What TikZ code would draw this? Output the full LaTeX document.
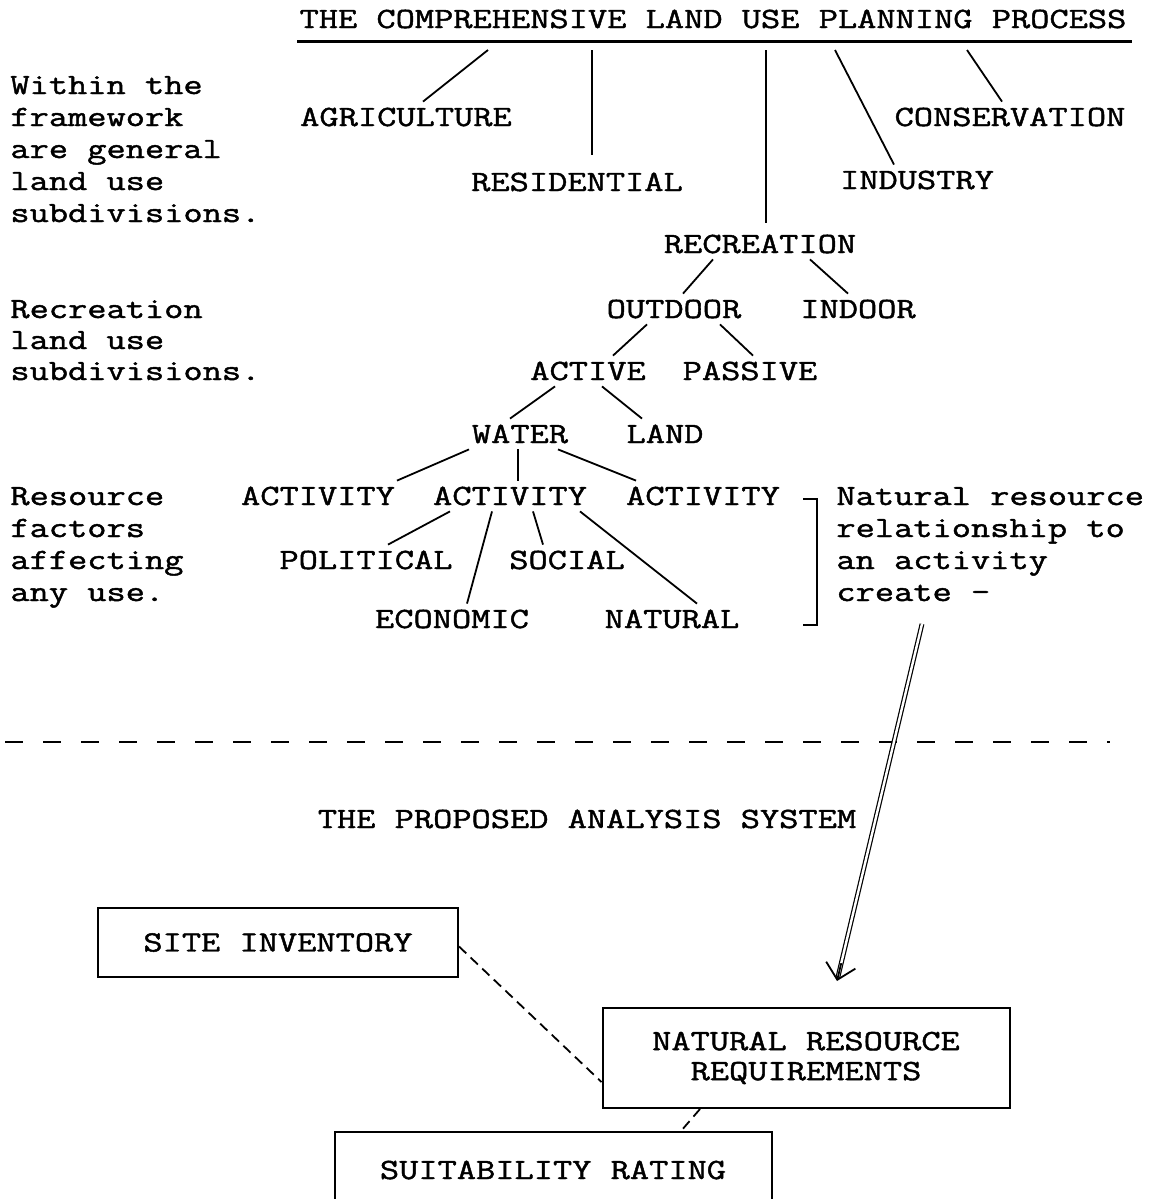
\documentclass[tikz,border=0pt]{standalone}
\usepackage{fontspec}
\setmainfont{Latin Modern Mono}[FakeStretch=1.27,FakeBold=1.5]
\usepackage{tikz}
\usetikzlibrary{arrows.meta}
\usetikzlibrary{calc}

\begin{document}
\begin{tikzpicture}[x=0.5pt,y=-0.5pt,font=\fontsize{14.7pt}{16pt}\selectfont,
  lbl/.style={inner xsep=0pt,inner ysep=3pt,text height=9pt,text depth=0pt},
  note/.style={inner sep=0pt,anchor=base west},
  twig/.style={line width=0.9pt},
  box/.style={draw,line width=1pt,inner sep=0pt,align=center,font=\fontsize{14.7pt}{15pt}\selectfont},
  link/.style={line width=0.9pt,dash pattern=on 5pt off 3pt}]
\useasboundingbox (0,0) rectangle (1150,1199);
\node[lbl] (title) at (713,19) {THE COMPREHENSIVE LAND USE PLANNING PROCESS};
\draw[line width=1.2pt] ([xshift=-1pt,yshift=-3.5pt]title.south west) -- ([xshift=2.5pt,yshift=-3.5pt]title.south east);
\foreach \nm/\xx/\yy/\txt in {agri/406/117/AGRICULTURE,resi/577/182/RESIDENTIAL,recr/760/244/RECREATION,
    indu/917/180/INDUSTRY,cons/1010/117/CONSERVATION,outd/674/309/OUTDOOR,indo/858/309/INDOOR,
    acti/588/371/ACTIVE,pass/750/371/PASSIVE,watr/520/434/WATER,land/665/434/LAND,
    actA/318/496/ACTIVITY,actB/510/496/ACTIVITY,actC/703/496/ACTIVITY,
    poli/366/560/POLITICAL,soci/567/560/SOCIAL,econ/452/619/ECONOMIC,natu/672/619/NATURAL}
{
    \node[lbl] (\nm) at (\xx,\yy) {\txt};
}
\foreach \i/\txt in {1/Within the,2/framework,3/are general,4/land use,5/subdivisions.}
{
    \node[note] (frame\i) at (10,62+32*\i) {\txt};
}
\foreach \i/\txt in {1/Recreation,2/land use,3/subdivisions.}
{
    \node[note] (recl\i) at (10,287+31*\i) {\txt};
}
\foreach \i/\txt in {1/Resource,2/factors,3/affecting,4/any use.}
{
    \node[note] (rsrc\i) at (10,473+32*\i) {\txt};
}
\foreach \i/\txt in {1/Natural resource,2/relationship to,3/an activity,4/create -}
{
    \node[note] (natr\i) at (836,473+32*\i) {\txt};
}
\foreach \nm/\xx in {uA/488,uB/592,uC/766,uD/835,uE/967}
{
    \coordinate (\nm) at (\xx,50);
}
\draw[twig] (uA) -- ([xshift=8.5pt]agri.north);
\draw[twig,shorten >=6pt] (uB) -- (uB |- resi.north);
\draw[twig,shorten >=3pt] (uC) -- (uC |- recr.north);
\draw[twig] (uD) -- ([xshift=-11.5pt]indu.north);
\draw[twig] (uE) -- ([xshift=-4pt]cons.north);
\foreach \a/\sa/\b/\sb in {recr/-23.5/outd/4.5,recr/25/indo/-5,outd/-13.5/acti/12.5,outd/23/pass/1.5,
    acti/-16.5/watr/-5,acti/7/land/-11.5,watr/-25.5/actA/39.5,watr/-1/actB/4,watr/19/actC/-33.5,
    actB/-30/poli/11,actB/-9/econ/7.5,actB/11.5/soci/-12,actB/35/natu/12.5}
{
    \draw[twig] ([xshift=\sa pt]\a.south) -- ([xshift=\sb pt]\b.north);
}
\draw[twig] (803,499) -- (817,499) -- (817,625) -- (803,625);
\draw[line width=1.2pt,dash pattern=on 9pt off 10pt] (5,742) -- (1110,742);
\node[lbl] (prop) at (587,819) {THE PROPOSED ANALYSIS SYSTEM};
\node[box,minimum width=180pt,minimum height=34.5pt] (site) at (278,942.5) {SITE INVENTORY};
\node[box,minimum width=203.5pt,minimum height=50pt] (nrr) at (806,1058) {NATURAL RESOURCE\\REQUIREMENTS};
\node[box,minimum width=218.5pt,minimum height=38pt] (suit) at (553,1170) {SUITABILITY RATING};
\coordinate (crt) at (922,624);
\coordinate (tip) at ([xshift=15.5pt,yshift=13pt]nrr.north);
\draw[line width=0.6pt,double distance=1.2pt] (crt) -- ($(crt)!0.99!(tip)$);
\draw[line width=0.9pt,-{Straight Barb[length=7.5pt,width=15pt]}] ($(crt)!0.95!(tip)$) -- (tip);
\draw[link] ([yshift=-2pt]site.east) -- ([yshift=-12pt]nrr.west);
\draw[link] ([xshift=-53pt]nrr.south) -- ([xshift=64pt]suit.north);
\end{tikzpicture}
\end{document}
